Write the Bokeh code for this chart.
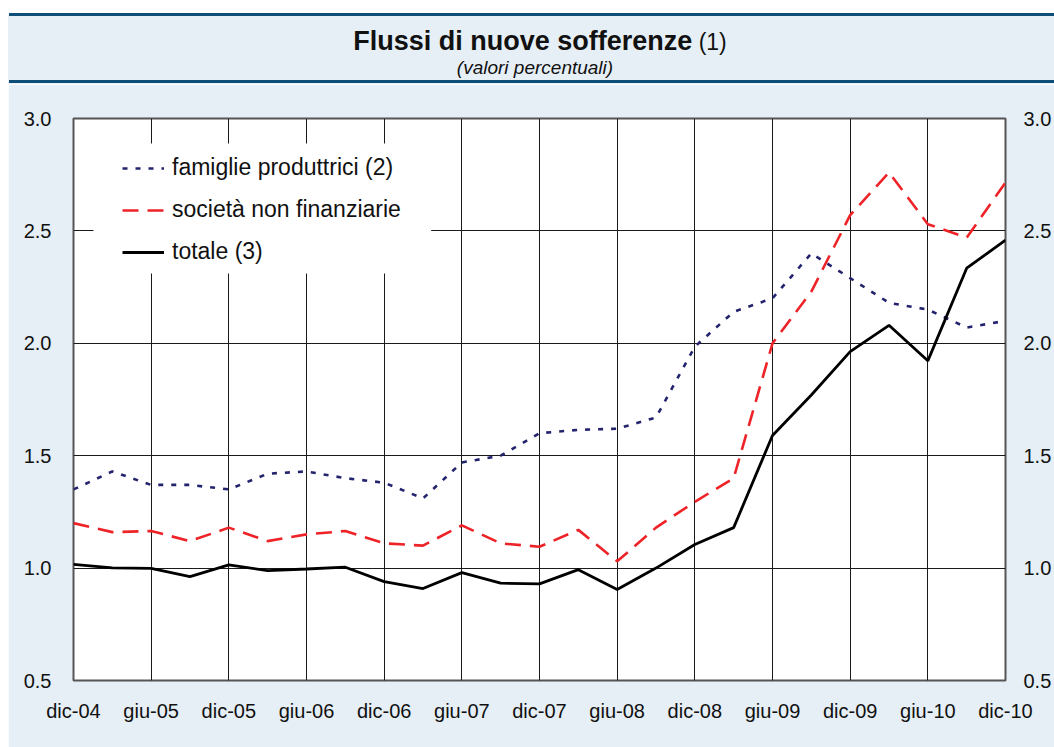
from bokeh.plotting import figure
from bokeh.models import (Range1d, FixedTicker, LinearAxis, Legend, LegendItem,
                          BoxAnnotation, Div)
from bokeh.layouts import column
from bokeh.embed import file_html
from bokeh.resources import INLINE

# ---------------- data ----------------
quarters = ["dic-04", "mar-05", "giu-05", "set-05", "dic-05", "mar-06", "giu-06",
            "set-06", "dic-06", "mar-07", "giu-07", "set-07", "dic-07", "mar-08",
            "giu-08", "set-08", "dic-08", "mar-09", "giu-09", "set-09", "dic-09",
            "mar-10", "giu-10", "set-10", "dic-10"]

famiglie = [1.35, 1.43, 1.37, 1.37, 1.35, 1.42, 1.43, 1.40, 1.38, 1.31, 1.47, 1.50,
            1.60, 1.615, 1.62, 1.67, 1.985, 2.14, 2.20, 2.40, 2.29, 2.18, 2.15, 2.07, 2.10]
societa = [1.20, 1.16, 1.165, 1.12, 1.18, 1.12, 1.15, 1.165, 1.11, 1.10, 1.19, 1.11,
           1.095, 1.17, 1.03, 1.18, 1.295, 1.40, 2.00, 2.23, 2.57, 2.76, 2.53, 2.47, 2.715]
totale = [1.017, 1.001, 0.999, 0.962, 1.014, 0.989, 0.996, 1.004, 0.94, 0.909, 0.98,
          0.933, 0.93, 0.993, 0.905, 1.0, 1.105, 1.18, 1.59, 1.77, 1.963, 2.08, 1.922,
          2.334, 2.459]

series_labels = ["famiglie produttrici (2)", "società non finanziarie", "totale (3)"]
y_ticks = [0.5, 1.0, 1.5, 2.0, 2.5, 3.0]
title_main = "Flussi di nuove sofferenze"
title_note = "(1)"
subtitle = "(valori percentuali)"

# ---------------- styles ----------------
BG = "#e6eff6"
DARK = "#0e4d78"
NAVY = "#24246e"
RED = "#ee2328"
FONT = "Liberation Sans"
TXT = "#111111"

W = 1046          # content width (8px white strip on the left)
HH = 84           # header height
PH = 663          # plot height

# ---------------- header ----------------
hdr_html = f"""
<div style="position:relative;width:{W}px;height:{HH}px;background:#ffffff;overflow:hidden;
            font-family:'{FONT}',Arial,sans-serif;color:{TXT};font-size:27px;line-height:1;">
  <div style="position:absolute;left:0;top:15px;width:{W}px;height:{HH - 15}px;background:{BG};"></div>
  <div style="position:absolute;left:1px;top:12.5px;width:{W - 1}px;height:3px;background:{DARK};"></div>
  <div style="position:absolute;left:1px;top:80px;width:{W - 1}px;height:2.5px;background:{DARK};"></div>
  <div style="position:absolute;left:0;top:27.5px;width:1064px;text-align:center;white-space:nowrap;line-height:1;">
    <span style="font-size:27px;font-weight:bold;">{title_main}</span><span style="font-size:23px;"> {title_note}</span>
  </div>
  <div style="position:absolute;left:0;top:57.5px;width:1054px;text-align:center;white-space:nowrap;
              font-size:19px;font-style:italic;line-height:1;">{subtitle}</div>
</div>
"""
header = Div(text=hdr_html, width=W, height=HH, margin=(0, 0, 0, 8))

# ---------------- main chart ----------------
x = list(range(len(quarters)))
p = figure(width=W, height=PH, x_range=Range1d(0, len(quarters) - 1),
           y_range=Range1d(y_ticks[0], y_ticks[-1]),
           output_backend="svg", toolbar_location=None,
           min_border_left=65, min_border_right=48, min_border_top=34,
           min_border_bottom=67, background_fill_color="white", border_fill_color=BG,
           margin=(0, 0, 0, 8))
p.outline_line_color = "#555555"
p.outline_line_width = 2

xt = list(range(0, len(quarters), 2))
p.xaxis.ticker = FixedTicker(ticks=xt)
p.xaxis.major_label_overrides = {i: quarters[i] for i in xt}
p.yaxis.ticker = FixedTicker(ticks=y_ticks)
p.yaxis.major_label_overrides = {v: f"{v:.1f}" for v in y_ticks}

ra = LinearAxis(ticker=FixedTicker(ticks=y_ticks),
                major_label_overrides={v: f"{v:.1f}" for v in y_ticks})
p.add_layout(ra, "right")

for ax in p.axis:
    ax.axis_line_color = None
    ax.major_tick_line_color = None
    ax.minor_tick_line_color = None
    ax.major_label_text_font = FONT
    ax.major_label_text_font_size = "20px"
    ax.major_label_text_color = TXT
p.xaxis.major_label_standoff = 13
p.yaxis[0].major_label_standoff = 16
ra.major_label_standoff = 12

p.xgrid.grid_line_color = "#1a1a1a"
p.ygrid.grid_line_color = "#1a1a1a"
p.xgrid.grid_line_width = 1
p.ygrid.grid_line_width = 1

# white legend background
p.add_layout(BoxAnnotation(left=0.514, right=9.21, bottom=2.31, top=2.889,
                           fill_color="white", fill_alpha=1, line_color=None,
                           level="underlay"))

r1 = p.line(x, famiglie, line_color=NAVY, line_width=2.6, line_dash="5 8")
r2 = p.line(x, societa, line_color=RED, line_width=2.6, line_dash="16 9")
r3 = p.line(x, totale, line_color="black", line_width=2.8)

legend = Legend(items=[LegendItem(label=series_labels[0], renderers=[r1]),
                       LegendItem(label=series_labels[1], renderers=[r2]),
                       LegendItem(label=series_labels[2], renderers=[r3])],
                location=(49, 415), padding=13, spacing=15, margin=0,
                glyph_width=42, glyph_height=22, label_height=22, label_standoff=8,
                label_text_font=FONT, label_text_font_size="23px",
                label_text_color=TXT, background_fill_alpha=0,
                border_line_color=None)
p.add_layout(legend)

layout = column(header, p, spacing=0)
open("out.html", "w").write(file_html(layout, INLINE))
